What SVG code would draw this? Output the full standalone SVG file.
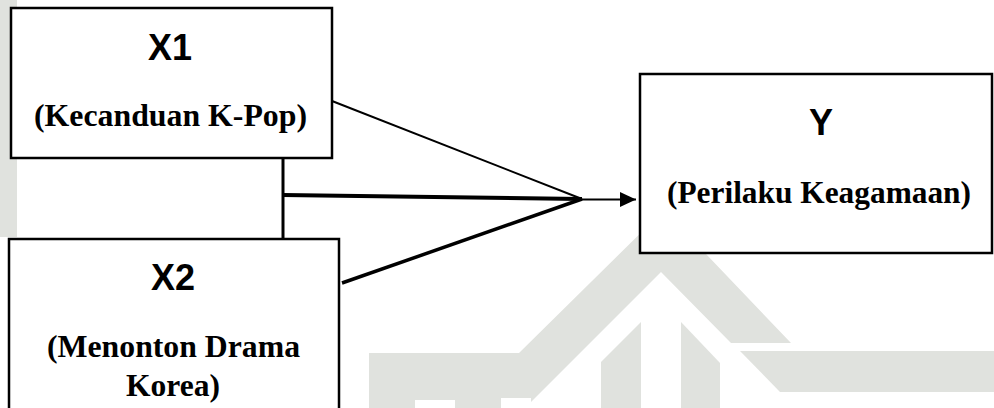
<svg xmlns="http://www.w3.org/2000/svg" width="994" height="408" viewBox="0 0 994 408">
<defs>
<style>
.box{fill:#fff;stroke:#000;stroke-width:2.5}
.var{font-family:"Liberation Sans",Arial,sans-serif;font-weight:bold;font-size:36px;text-anchor:middle;fill:#000}
.lbl{font-family:"Liberation Serif","Times New Roman",serif;font-weight:bold;font-size:31.5px;text-anchor:middle;fill:#000}
.wm{fill:#e0e2de;stroke:none}
.ln{stroke:#000;fill:none;stroke-linecap:butt}
</style>
<marker id="arr" viewBox="0 0 16 15" refX="16" refY="7.5" markerWidth="16" markerHeight="15" markerUnits="userSpaceOnUse" orient="auto">
<path d="M0,0 L16,7.5 L0,15 Z" fill="#000"/>
</marker>
</defs>
<rect width="994" height="408" fill="#fff"/>
<g id="watermark">
<rect class="wm" x="0" y="0" width="17" height="237"/>
<polygon class="wm" points="664,210 519,353 369,353 369,408 525,408 661,272 731,343 791,343"/>
<rect x="415" y="400" width="40" height="8" fill="#fff"/>
<rect x="501" y="398" width="30" height="10" fill="#fff"/>
<polygon class="wm" points="641,322 601,362 601,408 641,408"/>
<polygon class="wm" points="681,322 720,363 720,408 681,408"/>
<polygon class="wm" points="740,351 994,351 994,392 780,392"/>
</g>
<g id="connectors">
<line class="ln" x1="283" y1="157" x2="283" y2="240" stroke-width="3"/>
<line class="ln" x1="283" y1="195" x2="582" y2="199" stroke-width="4"/>
<line class="ln" x1="332" y1="101" x2="582" y2="199" stroke-width="2"/>
<line class="ln" x1="342" y1="283" x2="582" y2="199" stroke-width="3.5"/>
<line class="ln" x1="578" y1="199.5" x2="636" y2="199.5" stroke-width="2" marker-end="url(#arr)"/>
</g>
<g id="node-x1">
<rect class="box" x="11" y="8" width="321" height="150"/>
<text class="var" x="170" y="60">X1</text>
<text class="lbl" x="170.5" y="126" textLength="273" lengthAdjust="spacingAndGlyphs">(Kecanduan K-Pop)</text>
</g>
<g id="node-x2">
<rect class="box" x="9" y="239" width="330" height="185"/>
<text class="var" x="173" y="290">X2</text>
<text class="lbl" x="173.5" y="357" textLength="253" lengthAdjust="spacingAndGlyphs">(Menonton Drama</text>
<text class="lbl" x="173" y="396" textLength="94" lengthAdjust="spacingAndGlyphs">Korea)</text>
</g>
<g id="node-y">
<rect class="box" x="640" y="74" width="352" height="179"/>
<text class="var" x="821" y="135">Y</text>
<text class="lbl" x="819" y="203" textLength="304" lengthAdjust="spacingAndGlyphs">(Perilaku Keagamaan)</text>
</g>
</svg>
